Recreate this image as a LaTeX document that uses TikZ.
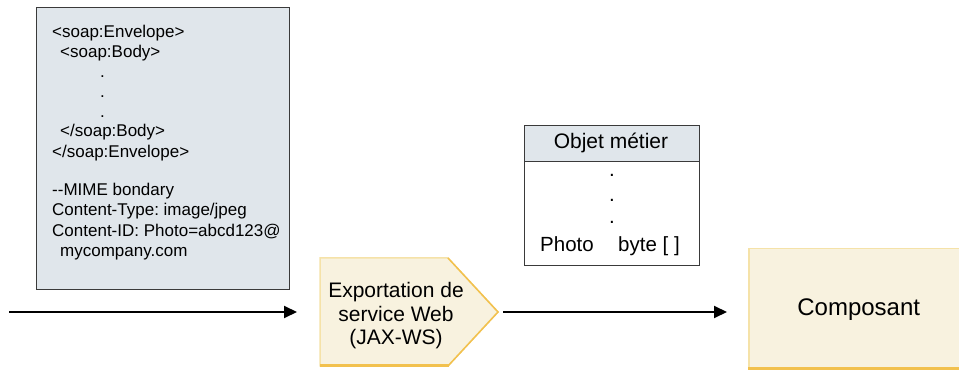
\documentclass[tikz,border=0pt]{standalone}
\usepackage{fontspec}
\setmainfont{Liberation Sans}
\usetikzlibrary{arrows.meta}
\definecolor{msgfill}{HTML}{E0E6EB}
\definecolor{boxline}{HTML}{3A3A3A}
\definecolor{cream}{HTML}{F8F2DF}
\definecolor{gold}{HTML}{F2C14E}
\definecolor{palegold}{HTML}{F5E2A8}
\frenchspacing

\begin{document}
\begin{tikzpicture}[x=1pt,y=-1pt,
    msgline/.style={anchor=base west,inner sep=0pt,font=\fontsize{17}{20}\selectfont},
    bofield/.style={anchor=base west,inner sep=0pt,font=\fontsize{20.5}{24}\selectfont},
    flow/.style={line width=2pt,-{Triangle[length=13pt,width=12pt]}}]
    \useasboundingbox (0,0) rectangle (959,371);

    % SOAP message with attachment
    \draw[boxline,fill=msgfill,line width=1pt] (36,8) rectangle (289,290);
    \node[msgline] (env) at (52,38) {<soap:Envelope>};
    \node[msgline] (body) at (60,58) {<soap:Body>};
    \node[msgline] (dotA) at (100,78) {.};
    \node[msgline] (dotB) at (100,98) {.};
    \node[msgline] (dotC) at (100,118) {.};
    \node[msgline] (bodyEnd) at (60,137) {</soap:Body>};
    \node[msgline] (envEnd) at (52,158) {</soap:Envelope>};
    \node[msgline] (mime) at (52,196) {-{}-MIME bondary};
    \node[msgline] (ctype) at (52,216) {Content-Type: image/jpeg};
    \node[msgline] (cid) at (52,237) {Content-ID: Photo=abcd123@};
    \node[msgline] (host) at (60,257) {mycompany.com};

    % export
    \draw[palegold,fill=cream,line width=1.5pt] (320,258) -- (448,258) -- (498,312) -- (448,366) -- (320,366) -- cycle;
    \draw[gold,line width=1.5pt] (448,258) -- (498,312) -- (448,366);
    \draw[gold,line width=3pt] (320,366) -- (449,366);
    \node[align=center,font=\fontsize{21}{23.5}\selectfont] (exp) at (396,316) {Exportation de\\service Web\\(JAX-WS)};
    \coordinate (src) at (9,312);
    \coordinate (expIn) at (297,312);
    \coordinate (expOut) at (503,312);

    % business object
    \draw[boxline,fill=white,line width=0.8pt] (524,125) rectangle (699,265);
    \draw[boxline,fill=msgfill,line width=0.8pt] (524,125) rectangle (699,161);
    \node[font=\fontsize{21}{24}\selectfont] (bo) at (611,143) {Objet métier};
    \node[bofield] (boDotA) at (609,177) {.};
    \node[bofield] (boDotB) at (609,202) {.};
    \node[bofield] (boDotC) at (609,224) {.};
    \node[bofield] (photo) at (540,252) {Photo};
    \node[bofield] (byte) at (618,252) {byte [ ]};

    % component
    \node[anchor=north west,inner sep=0pt,minimum width=220pt,minimum height=121pt,
        fill=cream,draw=palegold,line width=1.5pt,font=\fontsize{24}{28}\selectfont] (comp) at (748,248) {Composant};
    \draw[gold,line width=3pt] (748,369) -- (968,369);

    \draw[flow] (src) -- (expIn);
    \draw[flow] (expOut) -- ([xshift=-21pt]comp.west |- expOut);
\end{tikzpicture}
\end{document}
